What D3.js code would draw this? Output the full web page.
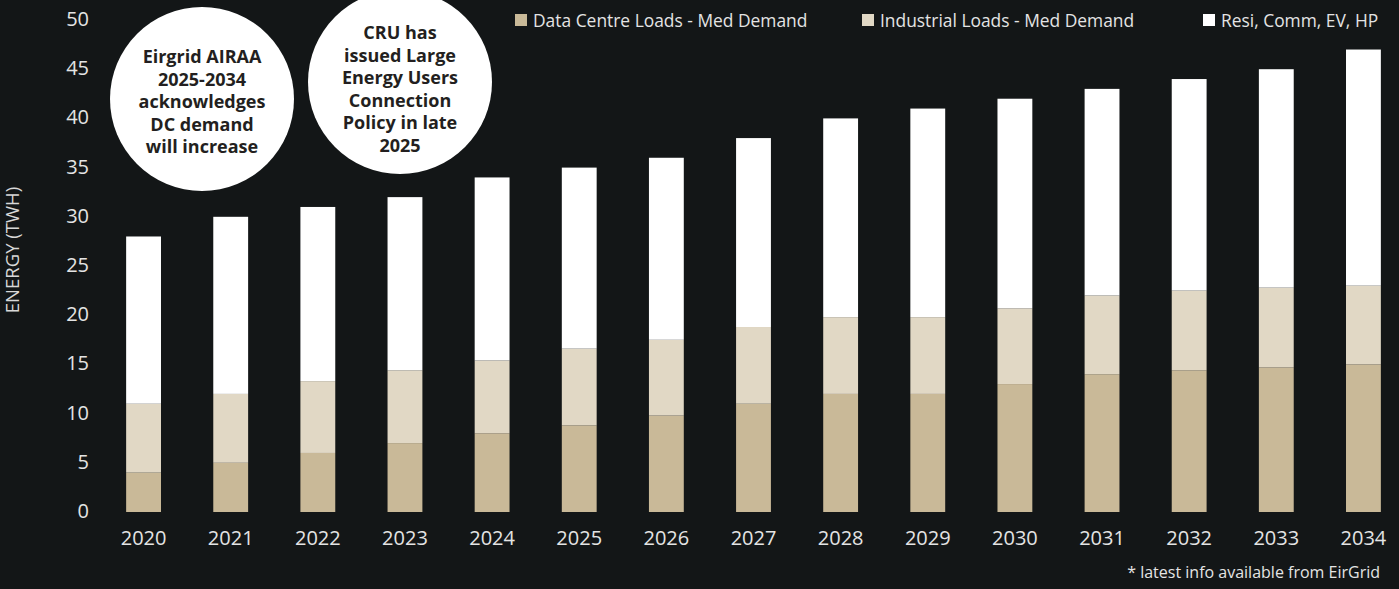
<!DOCTYPE html>
<html>
<head>
<meta charset="utf-8">
<script src="https://cdn.jsdelivr.net/npm/d3@7"></script>
<style>
  body { margin: 0; background: #131617; }
  text { font-family: "Open Sans", sans-serif; }
</style>
</head>
<body>
<div id="chart"></div>
<script>
var width = 1399,
    height = 589;

var years = ["2020","2021","2022","2023","2024","2025","2026","2027","2028","2029","2030","2031","2032","2033","2034"];
var dataCentre = [4, 5, 6, 7, 8, 8.8, 9.8, 11, 12, 12, 13, 14, 14.4, 14.7, 15];
var industrial = [7, 7, 7.3, 7.4, 7.4, 7.8, 7.7, 7.8, 7.8, 7.8, 7.7, 8, 8.1, 8.1, 8];
var resi = [17, 18, 17.7, 17.6, 18.6, 18.4, 18.5, 19.2, 20.2, 21.2, 21.3, 21, 21.5, 22.2, 24];
var yTicks = [0, 5, 10, 15, 20, 25, 30, 35, 40, 45, 50];
var seriesNames = ["Data Centre Loads - Med Demand", "Industrial Loads - Med Demand", "Resi, Comm, EV, HP"];
var colors = ["#c9b998", "#e1d8c5", "#ffffff"];
var notes = [
  ["Eirgrid AIRAA", "2025-2034", "acknowledges", "DC demand", "will increase"],
  ["CRU has", "issued Large", "Energy Users", "Connection", "Policy in late", "2025"]
];

var svg = d3.select("#chart")
  .append("svg")
  .attr("width", width)
  .attr("height", height)
  .style("background", "#131617");

var x = d3.scaleBand().domain(years).range([100, 1407]).paddingInner(0.6).paddingOuter(0.3);
var y = d3.scaleLinear().domain([0, 50]).range([512, 20]);

var table = years.map(function(yr, i){
  return { year: yr, dc: dataCentre[i], ind: industrial[i], resi: resi[i] };
});
var stack = d3.stack().keys(["dc", "ind", "resi"])(table);

// y axis
var yAxis = svg.append("g")
  .attr("transform", "translate(89,-1)")
  .call(d3.axisLeft(y).tickValues(yTicks).tickSize(0).tickPadding(0));
yAxis.select(".domain").remove();
yAxis.selectAll("text")
  .attr("fill", "#e4e4e4")
  .style("font-size", "20px")
  .style("font-family", "Open Sans");

// x axis
var xAxis = svg.append("g")
  .attr("transform", "translate(0,531)")
  .call(d3.axisBottom(x).tickSize(0).tickPadding(0));
xAxis.select(".domain").remove();
xAxis.selectAll("text")
  .attr("fill", "#e4e4e4")
  .style("font-size", "20px")
  .style("font-family", "Open Sans");

svg.append("text")
  .attr("transform", "translate(13,250) rotate(-90)")
  .attr("text-anchor", "middle")
  .attr("dy", "0.35em")
  .attr("fill", "#d8d8d8")
  .style("font-size", "18.5px")
  .text("ENERGY (TWH)");

// bars
svg.selectAll("g.layer")
  .data(stack)
  .enter()
  .append("g")
  .attr("class", "layer")
  .attr("fill", function(d, i){ return colors[i] })
  .selectAll("rect")
  .data(function(d){ return d })
  .enter()
  .append("rect")
  .attr("x", function(d){ return x(d.data.year) })
  .attr("width", x.bandwidth())
  .attr("y", function(d){ return y(d[1]) })
  .attr("height", function(d){ return y(d[0]) - y(d[1]) });

// legend
var legendX = [515, 862, 1203];
var legend = svg.selectAll(".legend")
  .data(seriesNames)
  .enter()
  .append("g")
  .attr("transform", function(d, i){ return "translate(" + legendX[i] + ",20)" });
legend.append("rect")
  .attr("x", 0).attr("y", -6)
  .attr("width", 12).attr("height", 12)
  .attr("fill", function(d, i){ return colors[i] });
legend.append("text")
  .attr("x", 18)
  .attr("dy", "0.38em")
  .attr("fill", "#e4e4e4")
  .style("font-size", "17.4px")
  .text(function(d){ return d });

// note circles
var noteCx = [202, 400], noteCy = [99, 82], noteTop = [57, 33];
notes.forEach(function(lines, i){
  svg.append("circle")
    .attr("cx", noteCx[i]).attr("cy", noteCy[i]).attr("r", 92)
    .attr("fill", "#ffffff");
  svg.append("text")
    .attr("text-anchor", "middle")
    .attr("fill", "#231f20")
    .style("font-size", "18px")
    .style("font-weight", "bold")
    .selectAll("tspan")
    .data(lines)
    .enter()
    .append("tspan")
    .attr("x", noteCx[i])
    .attr("y", function(d, j){ return noteTop[i] + j * 22.5 })
    .attr("dy", "0.35em")
    .text(function(d){ return d });
});

svg.append("text")
  .attr("x", 1380).attr("y", 578)
  .attr("text-anchor", "end")
  .attr("fill", "#e4e4e4")
  .style("font-size", "16px")
  .text("* latest info available from EirGrid");
</script>
</body>
</html>
